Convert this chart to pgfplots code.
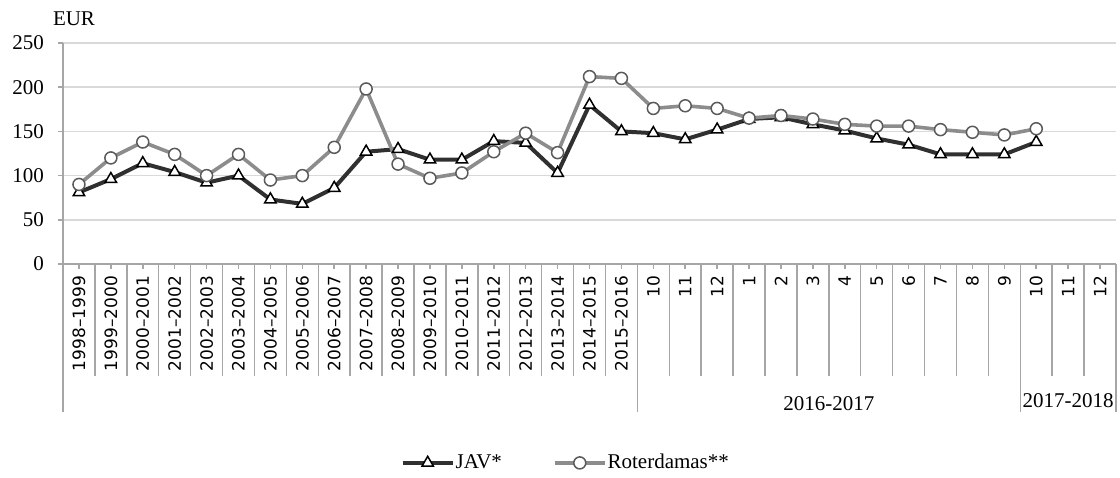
\documentclass[border=0pt]{standalone}
\usepackage{fontspec}
\setmainfont{Liberation Serif}
\newfontfamily\lblfont{DejaVu Sans}
\usepackage{pgfplots}
\usepackage{pgfplotstable}
\pgfplotsset{compat=1.18}

\definecolor{javline}{HTML}{303030}
\definecolor{rotline}{HTML}{8C8C8C}
\definecolor{rotmark}{HTML}{5A5A5A}
\definecolor{gridc}{HTML}{D9D9D9}
\definecolor{axc}{HTML}{A6A6A6}

% x: 0-17 seasons, 18-32 months (2016-2017: 10..9, 2017-2018: 10..12)
\pgfplotstableread{
x   jav  rot
0   81   90
1   96   120
2   114  138
3   104  124
4   92   100
5   100  124
6   73   95
7   68   100
8   86   132
9   127  198
10  130  113
11  118  97
12  118  103
13  139  127
14  137  148
15  103  126
16  180  212
17  150  210
18  148  176
19  141  179
20  152  176
21  164  165
22  166  168
23  158  164
24  151  158
25  142  156
26  135  156
27  124  152
28  124  149
29  124  146
30  138  153
}\prices

\begin{document}
\begin{tikzpicture}
\begin{axis}[
  name=ax,
  width=526.5pt, height=110.5pt, scale only axis,
  xmin=-0.5, xmax=32.5, ymin=0, ymax=250,
  clip=false,
  axis lines*=left,
  axis line style={axc, line width=0.75pt},
  ymajorgrids, grid style={gridc, line width=0.75pt},
  tick align=outside, major tick length=2.5pt,
  tick style={axc, line width=0.75pt},
  ytick={0,50,...,250},
  xtick={0,...,32},
  xticklabels={1998–1999,1999–2000,2000–2001,2001–2002,2002–2003,2003–2004,
    2004–2005,2005–2006,2006–2007,2007–2008,2008–2009,2009–2010,2010–2011,
    2011–2012,2012–2013,2013–2014,2014–2015,2015–2016,
    10,11,12,1,2,3,4,5,6,7,8,9,10,11,12},
  xticklabel style={font=\lblfont\fontsize{8.5}{10}\selectfont, rotate=90, anchor=east},
  yticklabel style={font=\fontsize{10.5}{12}\selectfont, xshift=-3.5pt},
  /pgf/number format/assume math mode=true,
  extra x ticks={0.5,1.5,...,31.5},
  extra x tick labels={},
  extra x tick style={major tick length=56pt, grid=none},
  legend style={at={(0.477,-0.900)}, anchor=center, draw=none,
    font=\fontsize{10.5}{12}\selectfont,
    nodes={inner xsep=0.5pt},
    /tikz/every even column/.append style={column sep=25pt}},
  legend columns=2,
  legend image code/.code={
    \draw[mark repeat=2, mark phase=2, #1]
      plot coordinates {(0pt,0pt) (12.5pt,0pt) (25pt,0pt)};},
]
\addplot[javline, line width=2pt, mark=triangle*, mark size=3.3pt,
  mark options={fill=white, draw=black, line width=0.75pt}]
  table[x=x, y=jav] {\prices};
\addlegendentry{JAV*}
\addplot[rotline, line width=1.8pt, mark=*, mark size=3pt,
  mark options={fill=white, draw=rotmark, line width=0.75pt}]
  table[x=x, y=rot] {\prices};
\addlegendentry{Roterdamas**}

\pgfplotsinvokeforeach{-0.5,17.5,29.5,32.5}{
  \draw[axc, line width=0.75pt] (axis cs:#1,0) -- ++(0pt,-74pt);
}
\node[font=\fontsize{10.5}{12}\selectfont, yshift=-70pt] at (axis cs:23.5,0) {2016-2017};
\node[font=\fontsize{10.5}{12}\selectfont, yshift=-68.5pt] at (axis cs:31,0) {2017-2018};
\node[font=\fontsize{10.5}{12}\selectfont, xshift=5.5pt, yshift=12pt] at (rel axis cs:0,1) {EUR};
\coordinate (bl) at (rel axis cs:0,0);
\coordinate (tr) at (rel axis cs:1,1);
\end{axis}
\pgfresetboundingbox
\path[use as bounding box] ([shift={(-31.5pt,-106.5pt)}]bl) rectangle ([shift={(2pt,21.5pt)}]tr);
\end{tikzpicture}
\end{document}
